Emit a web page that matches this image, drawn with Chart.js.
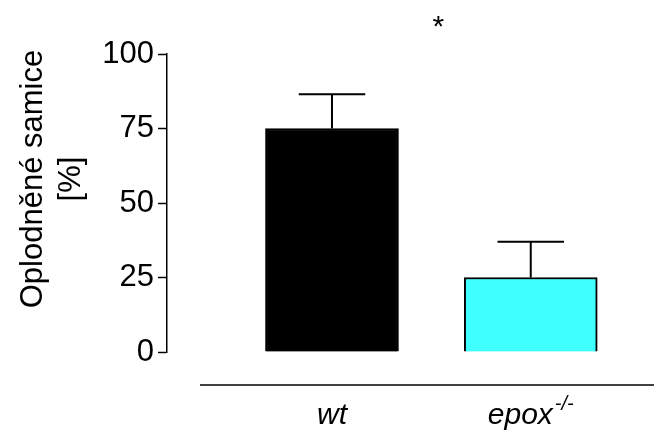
<!DOCTYPE html>
<html>
<head>
<meta charset="utf-8">
<script src="https://cdn.jsdelivr.net/npm/chart.js@4"></script>
<style>
  html, body { margin: 0; padding: 0; background: #fff; }
  #wrap { width: 654px; height: 430px; }
</style>
</head>
<body>
<div id="wrap"><canvas id="c" width="654" height="430"></canvas></div>
<script>
const categories = ['wt', 'epox']
const categorySup = ['', '-/-']
const values = [75, 25]
const errors = [11.5, 12]
const barColors = ['#000000', '#40FFFF']
const yTicks = [0, 25, 50, 75, 100]
const yTitle = ['Oplodněné samice', '[%]']
const significance = '*'

const FONT = "Arial, 'Liberation Sans', sans-serif"

// error bars (SEM), cap is half the bar width
const errorBars = {
    id: 'errorBars',
    afterDatasetsDraw(chart) {
        const ctx = chart.ctx
        const y = chart.scales.y
        const meta = chart.getDatasetMeta(0)
        ctx.save()
        ctx.strokeStyle = '#000'
        ctx.lineWidth = 2
        meta.data.forEach((bar, i) => {
            const top = y.getPixelForValue(values[i] + errors[i])
            const half = bar.width / 4
            ctx.beginPath()
            ctx.moveTo(bar.x, bar.y)
            ctx.lineTo(bar.x, top)
            ctx.moveTo(bar.x - half, top)
            ctx.lineTo(bar.x + half, top)
            ctx.stroke()
        })
        ctx.restore()
    }
}

// detached x axis line, category labels with superscripts, title, asterisk
const decorations = {
    id: 'decorations',
    afterDraw(chart) {
        const ctx = chart.ctx
        const x = chart.scales.x
        const area = chart.chartArea
        ctx.save()

        ctx.strokeStyle = '#000'
        ctx.lineWidth = 1.5
        ctx.beginPath()
        ctx.moveTo(200, area.bottom + 33)
        ctx.lineTo(chart.width, area.bottom + 33)
        ctx.stroke()

        ctx.fillStyle = '#000'
        ctx.textBaseline = 'alphabetic'
        ctx.textAlign = 'left'
        categories.forEach((label, i) => {
            const cx = x.getPixelForValue(i + 1)
            ctx.font = 'italic 30px ' + FONT
            const w1 = ctx.measureText(label).width
            ctx.font = 'italic 20px ' + FONT
            const w2 = categorySup[i] ? ctx.measureText(categorySup[i]).width + 2 : 0
            const start = cx - (w1 + w2) / 2
            ctx.font = 'italic 30px ' + FONT
            ctx.fillText(label, start, area.bottom + 72)
            if (categorySup[i]) {
                ctx.font = 'italic 20px ' + FONT
                ctx.fillText(categorySup[i], start + w1 + 2, area.bottom + 58)
            }
        })

        ctx.font = '30px ' + FONT
        ctx.textAlign = 'center'
        ctx.fillText(significance, x.getPixelForValue(1.5) + 7, 36)

        ctx.font = '31px ' + FONT
        ctx.textBaseline = 'middle'
        const midY = (area.top + area.bottom) / 2 - 24
        const cols = [33, 71]
        yTitle.forEach((line, i) => {
            ctx.save()
            ctx.translate(cols[i], midY)
            ctx.rotate(-Math.PI / 2)
            ctx.fillText(line, 0, 0)
            ctx.restore()
        })
        ctx.restore()
    }
}

new Chart(document.getElementById('c').getContext('2d'), {
    type: 'bar',
    data: {
        labels: categories,
        datasets: [{
            data: values.map((v, i) => ({ x: i + 1, y: v })),
            backgroundColor: barColors,
            borderColor: '#000',
            borderWidth: 2,
            barThickness: 133
        }]
    },
    options: {
        responsive: false,
        devicePixelRatio: 1,
        animation: false,
        layout: { padding: { left: 0, right: 4, top: 54, bottom: 0 } },
        plugins: { legend: { display: false }, tooltip: { enabled: false } },
        scales: {
            x: {
                type: 'linear',
                offset: false,
                min: 0.17,
                max: 2.6,
                grid: { display: false },
                border: { display: false },
                ticks: { display: false },
                afterFit(scale) { scale.height = 78 }
            },
            y: {
                min: 0,
                max: 100,
                afterFit(scale) { scale.width = 167 },
                afterBuildTicks(scale) { scale.ticks = yTicks.map(v => ({ value: v })) },
                border: { display: true, color: '#000', width: 1.5 },
                grid: {
                    drawOnChartArea: false,
                    drawTicks: true,
                    tickLength: 9,
                    tickColor: '#000',
                    tickWidth: 1.5
                },
                ticks: {
                    color: '#000',
                    padding: 4,
                    font: { family: FONT, size: 31 }
                }
            }
        }
    },
    plugins: [errorBars, decorations]
})
</script>
</body>
</html>
